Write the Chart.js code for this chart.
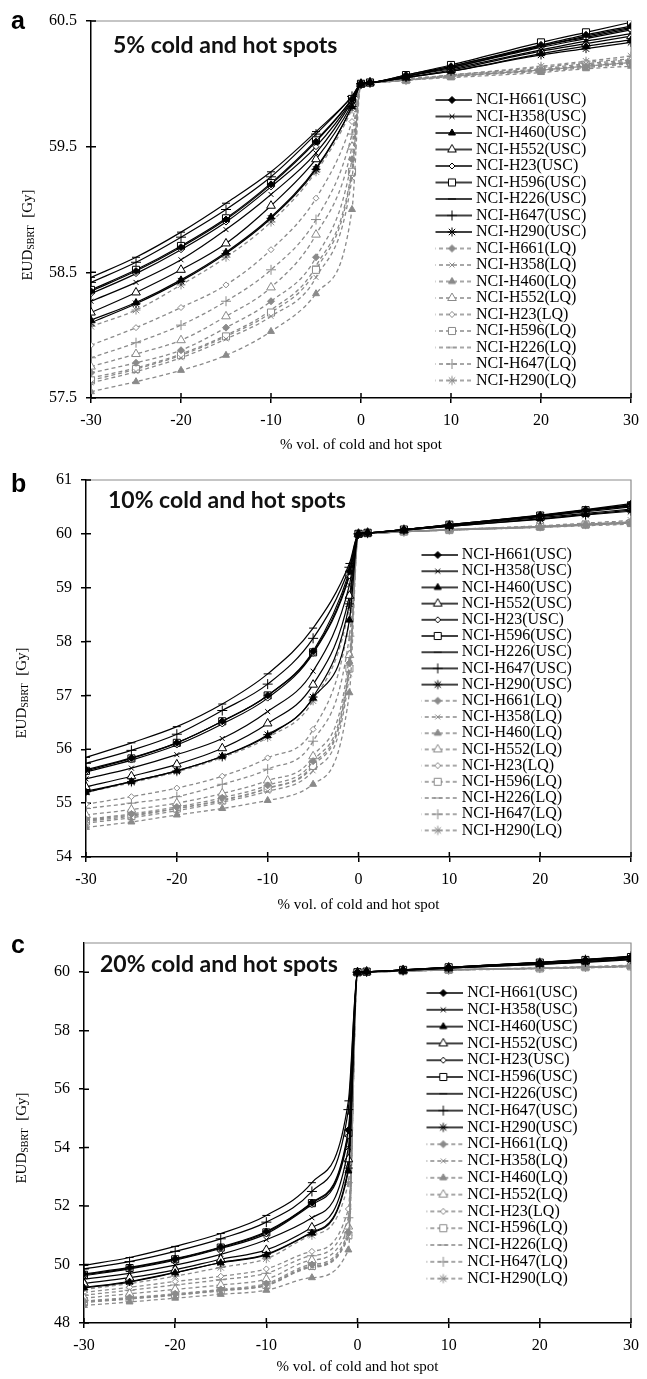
<!DOCTYPE html>
<html>
<head>
<meta charset="utf-8">
<script src="https://cdn.jsdelivr.net/npm/chart.js@4.4.0/dist/chart.umd.min.js"></script>
<style>
  body { margin: 0; background: #fff; }
  #page { position: relative; width: 647px; height: 1379px; overflow: hidden; }
  canvas { position: absolute; left: 0; }
  .letter { position: absolute; font: bold 25px "Liberation Sans", Arial, sans-serif; line-height: 1; }
  .spots { position: absolute; font: bold 23px Lato, sans-serif; line-height: 1; white-space: nowrap; color: #111; }
  .ylab { position: absolute; font: 15px "Liberation Serif", serif; white-space: nowrap; transform: translate(-50%, -50%) rotate(-90deg); }
  .ylab sub { font-size: 10px; vertical-align: -2px; }
</style>
</head>
<body>
<div id="page">
  <canvas id="chartA" width="647" height="460" style="top:0px"></canvas>
  <canvas id="chartB" width="647" height="460" style="top:460px"></canvas>
  <canvas id="chartC" width="647" height="459" style="top:920px"></canvas>

  <div class="letter" style="left:11px;top:8px">a</div>
  <div class="letter" style="left:11px;top:471px">b</div>
  <div class="letter" style="left:11px;top:932px">c</div>

  <div class="spots" style="left:113px;top:33px">5% cold and hot spots</div>
  <div class="spots" style="left:108px;top:488px">10% cold and hot spots</div>
  <div class="spots" style="left:100px;top:952px">20% cold and hot spots</div>

  <div class="ylab" style="left:27px;top:235px">EUD<sub>SBRT</sub>&nbsp; [Gy]</div>
  <div class="ylab" style="left:21px;top:693px">EUD<sub>SBRT</sub>&nbsp; [Gy]</div>
  <div class="ylab" style="left:21px;top:1138px">EUD<sub>SBRT</sub>&nbsp; [Gy]</div>
</div>
<script>
// % volume of the cold (negative) or hot (positive) spot
const xValues = [-30, -25, -20, -15, -10, -5, -1, 0, 1, 5, 10, 20, 25, 30];
const cellLines = ["NCI-H661", "NCI-H358", "NCI-H460", "NCI-H552", "NCI-H23", "NCI-H596", "NCI-H226", "NCI-H647", "NCI-H290"];

// panel a - 5% spots (rows follow cellLines)
const usc5 = [
  [58.35, 58.51, 58.70, 58.92, 59.20, 59.54, 59.88, 60, 60.01, 60.07, 60.14, 60.31, 60.39, 60.46],
  [58.27, 58.42, 58.60, 58.84, 59.12, 59.45, 59.86, 60, 60.01, 60.06, 60.12, 60.27, 60.34, 60.40],
  [58.12, 58.26, 58.44, 58.66, 58.94, 59.33, 59.82, 60, 60.01, 60.05, 60.10, 60.24, 60.30, 60.35],
  [58.18, 58.34, 58.52, 58.73, 59.03, 59.40, 59.84, 60, 60.01, 60.05, 60.11, 60.26, 60.32, 60.38],
  [58.33, 58.49, 58.68, 58.90, 59.18, 59.50, 59.87, 60, 60.01, 60.06, 60.13, 60.29, 60.36, 60.43],
  [58.36, 58.52, 58.71, 58.93, 59.21, 59.55, 59.88, 60, 60.01, 60.07, 60.15, 60.33, 60.41, 60.49],
  [58.46, 58.62, 58.82, 59.05, 59.30, 59.62, 59.90, 60, 60.01, 60.06, 60.14, 60.30, 60.38, 60.45],
  [58.42, 58.58, 58.78, 59.00, 59.26, 59.60, 59.90, 60, 60.01, 60.06, 60.13, 60.30, 60.37, 60.44],
  [58.10, 58.25, 58.43, 58.65, 58.93, 59.32, 59.82, 60, 60.01, 60.05, 60.10, 60.23, 60.28, 60.33]
];
const lq5 = [
  [57.70, 57.78, 57.88, 58.06, 58.27, 58.62, 59.40, 60, 60.01, 60.03, 60.06, 60.11, 60.14, 60.17],
  [57.62, 57.71, 57.82, 57.97, 58.15, 58.46, 59.25, 60, 60.01, 60.03, 60.06, 60.10, 60.13, 60.16],
  [57.55, 57.63, 57.72, 57.84, 58.03, 58.33, 59.00, 60, 60.01, 60.03, 60.05, 60.09, 60.12, 60.14],
  [57.75, 57.85, 57.96, 58.15, 58.38, 58.80, 59.50, 60, 60.01, 60.03, 60.06, 60.11, 60.15, 60.18],
  [57.92, 58.06, 58.22, 58.40, 58.68, 59.09, 59.70, 60, 60.01, 60.03, 60.07, 60.13, 60.17, 60.20],
  [57.64, 57.73, 57.84, 57.99, 58.18, 58.52, 59.30, 60, 60.01, 60.03, 60.06, 60.11, 60.14, 60.17],
  [57.66, 57.74, 57.85, 58.00, 58.20, 58.55, 59.32, 60, 60.01, 60.03, 60.06, 60.11, 60.14, 60.17],
  [57.82, 57.94, 58.08, 58.27, 58.52, 58.92, 59.60, 60, 60.01, 60.03, 60.07, 60.12, 60.16, 60.19],
  [58.07, 58.20, 58.40, 58.62, 58.90, 59.30, 59.80, 60, 60.01, 60.04, 60.07, 60.14, 60.18, 60.22]
];

// panel b - 10% spots
const usc10 = [
  [55.62, 55.84, 56.12, 56.52, 57.00, 57.82, 59.30, 60, 60.02, 60.08, 60.17, 60.35, 60.45, 60.56],
  [55.45, 55.65, 55.90, 56.20, 56.70, 57.45, 59.05, 60, 60.02, 60.08, 60.16, 60.32, 60.41, 60.50],
  [55.20, 55.40, 55.60, 55.87, 56.25, 56.95, 58.40, 60, 60.02, 60.07, 60.14, 60.28, 60.36, 60.44],
  [55.30, 55.50, 55.72, 56.02, 56.48, 57.20, 58.85, 60, 60.02, 60.07, 60.15, 60.30, 60.38, 60.46],
  [55.58, 55.80, 56.08, 56.47, 56.95, 57.78, 59.22, 60, 60.02, 60.08, 60.16, 60.33, 60.43, 60.52],
  [55.60, 55.83, 56.12, 56.52, 57.00, 57.80, 59.25, 60, 60.02, 60.08, 60.17, 60.34, 60.44, 60.53],
  [55.85, 56.12, 56.42, 56.84, 57.40, 58.25, 59.45, 60, 60.02, 60.08, 60.17, 60.34, 60.44, 60.54],
  [55.74, 55.98, 56.28, 56.72, 57.21, 58.06, 59.38, 60, 60.02, 60.08, 60.16, 60.33, 60.43, 60.52],
  [55.22, 55.40, 55.60, 55.87, 56.27, 56.97, 58.70, 60, 60.02, 60.07, 60.14, 60.27, 60.35, 60.42]
];
const lq10 = [
  [54.70, 54.80, 54.93, 55.10, 55.33, 55.78, 57.60, 60, 60.01, 60.04, 60.07, 60.13, 60.17, 60.21],
  [54.63, 54.73, 54.86, 55.02, 55.22, 55.60, 57.40, 60, 60.01, 60.04, 60.07, 60.12, 60.16, 60.20],
  [54.55, 54.65, 54.78, 54.90, 55.05, 55.35, 57.05, 60, 60.01, 60.04, 60.07, 60.12, 60.15, 60.18],
  [54.78, 54.88, 55.00, 55.18, 55.42, 55.87, 57.75, 60, 60.01, 60.04, 60.08, 60.13, 60.17, 60.21],
  [54.98, 55.12, 55.28, 55.50, 55.84, 56.37, 58.40, 60, 60.01, 60.04, 60.08, 60.14, 60.18, 60.23],
  [54.66, 54.76, 54.90, 55.05, 55.27, 55.69, 57.50, 60, 60.01, 60.04, 60.07, 60.13, 60.17, 60.20],
  [54.68, 54.78, 54.90, 55.06, 55.28, 55.72, 57.55, 60, 60.01, 60.04, 60.07, 60.13, 60.17, 60.20],
  [54.90, 55.00, 55.12, 55.35, 55.63, 56.15, 58.10, 60, 60.01, 60.04, 60.08, 60.14, 60.18, 60.22],
  [55.20, 55.38, 55.58, 55.85, 56.22, 56.90, 58.65, 60, 60.01, 60.04, 60.08, 60.15, 60.20, 60.25]
];

// panel c - 20% spots
const usc20 = [
  [49.68, 49.90, 50.20, 50.60, 51.13, 52.12, 54.60, 60, 60.02, 60.08, 60.17, 60.34, 60.43, 60.53],
  [49.50, 49.70, 49.98, 50.35, 50.85, 51.60, 54.00, 60, 60.02, 60.07, 60.16, 60.31, 60.40, 60.49],
  [49.20, 49.40, 49.72, 50.06, 50.33, 51.08, 53.20, 60, 60.02, 60.06, 60.14, 60.27, 60.35, 60.44],
  [49.35, 49.55, 49.82, 50.18, 50.50, 51.27, 53.60, 60, 60.02, 60.07, 60.15, 60.29, 60.37, 60.46],
  [49.62, 49.85, 50.15, 50.55, 51.05, 52.05, 54.40, 60, 60.02, 60.07, 60.16, 60.32, 60.41, 60.51],
  [49.65, 49.88, 50.18, 50.58, 51.10, 52.10, 54.50, 60, 60.02, 60.08, 60.17, 60.33, 60.42, 60.52],
  [49.97, 50.24, 50.62, 51.06, 51.68, 52.80, 55.60, 60, 60.02, 60.08, 60.17, 60.34, 60.44, 60.55],
  [49.85, 50.10, 50.45, 50.88, 51.45, 52.50, 55.30, 60, 60.02, 60.08, 60.17, 60.33, 60.43, 60.54],
  [49.22, 49.42, 49.73, 50.07, 50.35, 51.10, 53.30, 60, 60.02, 60.06, 60.14, 60.27, 60.34, 60.43]
];
const lq20 = [
  [48.75, 48.87, 49.00, 49.15, 49.35, 50.00, 51.10, 60, 60.01, 60.04, 60.08, 60.14, 60.17, 60.21],
  [48.70, 48.82, 48.95, 49.10, 49.28, 49.90, 50.95, 60, 60.01, 60.04, 60.08, 60.13, 60.16, 60.20],
  [48.60, 48.72, 48.85, 48.98, 49.12, 49.55, 50.50, 60, 60.01, 60.04, 60.07, 60.12, 60.15, 60.18],
  [48.85, 49.00, 49.15, 49.30, 49.50, 50.15, 51.30, 60, 60.01, 60.04, 60.08, 60.14, 60.17, 60.21],
  [49.05, 49.22, 49.42, 49.60, 49.85, 50.45, 51.90, 60, 60.01, 60.04, 60.08, 60.14, 60.18, 60.22],
  [48.72, 48.84, 48.97, 49.12, 49.30, 49.95, 51.00, 60, 60.01, 60.04, 60.08, 60.13, 60.17, 60.20],
  [48.72, 48.84, 48.97, 49.12, 49.30, 49.92, 51.00, 60, 60.01, 60.04, 60.08, 60.13, 60.17, 60.20],
  [48.95, 49.12, 49.30, 49.48, 49.70, 50.30, 51.60, 60, 60.01, 60.04, 60.08, 60.14, 60.18, 60.22],
  [49.15, 49.35, 49.60, 49.90, 50.20, 51.00, 52.80, 60, 60.01, 60.05, 60.09, 60.15, 60.19, 60.24]
];

// y axis ranges [min, max, step] for a, b, c
const yRangeA = [57.5, 60.5, 1];
const yRangeB = [54, 61, 1];
const yRangeC = [48, 61, 2];

const GRAY = '#8a8a8a';

// Excel-like marker per cell line
const markers = [
  { style: 'rectRot', r: 3.5, filled: true },   // H661
  { style: 'crossRot', r: 3.5, filled: false }, // H358
  { style: 'triangle', r: 4, filled: true },    // H460
  { style: 'triangle', r: 5, filled: false },   // H552
  { style: 'rectRot', r: 3, filled: false },    // H23
  { style: 'rect', r: 5, filled: false },       // H596
  { style: 'line', r: 4, filled: false },       // H226
  { style: 'cross', r: 5, filled: false },      // H647
  { style: 'star', r: 4.5, filled: false }      // H290
];

function makeSet(label, vals, i, isLQ) {
  const m = markers[i];
  const col = isLQ ? GRAY : '#000';
  return {
    label: label,
    data: xValues.map((x, k) => ({ x: x, y: vals[k] })),
    borderColor: col,
    borderWidth: isLQ ? 1.3 : 1.2,
    borderDash: isLQ ? [4, 3] : [],
    pointStyle: m.style,
    pointRadius: m.r,
    pointBorderWidth: 1,
    pointBorderColor: col,
    pointBackgroundColor: m.filled ? col : '#fff',
    cubicInterpolationMode: 'monotone',
    fill: false
  };
}

// little line+marker picture for legend entries
function legendSymbol(i, isLQ) {
  const c = document.createElement('canvas');
  c.width = 40; c.height = 14;
  const ctx = c.getContext('2d');
  const col = isLQ ? GRAY : '#000';
  ctx.strokeStyle = col;
  ctx.lineWidth = 1.3;
  ctx.setLineDash(isLQ ? [4, 3] : []);
  ctx.beginPath(); ctx.moveTo(0, 7); ctx.lineTo(40, 7); ctx.stroke();
  ctx.setLineDash([]);
  const m = markers[i];
  ctx.fillStyle = m.filled ? col : '#fff';
  ctx.lineWidth = 1;
  if (Chart.helpers && Chart.helpers.drawPoint) {
    Chart.helpers.drawPoint(ctx, { pointStyle: m.style, radius: m.r, rotation: 0, borderWidth: 1 }, 20, 7);
  }
  return c;
}

const symbolsUSC = cellLines.map((n, i) => legendSymbol(i, false));
const symbolsLQ = cellLines.map((n, i) => legendSymbol(i, true));

// frame on top/right, inward tick halves, legend moved inside plot
const framePlugin = {
  id: 'frame',
  afterLayout(chart, args, opts) {
    const lg = chart.legend;
    if (lg) {
      const w = lg.width, h = lg.height;
      lg.left = opts.legendLeft;
      lg.top = opts.legendTop;
      lg.right = lg.left + w;
      lg.bottom = lg.top + h + 40;
    }
  },
  beforeDatasetsDraw(chart) {
    const { ctx, chartArea } = chart;
    const { left, top, right, bottom } = chartArea;
    ctx.save();
    ctx.strokeStyle = '#8c8c8c';
    ctx.lineWidth = 1.2;
    ctx.beginPath();
    ctx.moveTo(left, top); ctx.lineTo(right, top); ctx.lineTo(right, bottom);
    ctx.stroke();
    ctx.strokeStyle = '#000';
    ctx.lineWidth = 1.5;
    ctx.beginPath();
    chart.scales.x.ticks.forEach(t => {
      const px = chart.scales.x.getPixelForValue(t.value);
      ctx.moveTo(px, bottom); ctx.lineTo(px, bottom - 5);
    });
    chart.scales.y.ticks.forEach(t => {
      const py = chart.scales.y.getPixelForValue(t.value);
      ctx.moveTo(left, py); ctx.lineTo(left + 5, py);
    });
    ctx.stroke();
    ctx.restore();
  }
};

Chart.defaults.font.family = '"Liberation Serif", "Times New Roman", serif';
Chart.defaults.color = '#000';

function makeChart(id, usc, lq, yRange, lay) {
  const datasets = [];
  usc.forEach((vals, i) => datasets.push(makeSet(cellLines[i] + '(USC)', vals, i, false)));
  lq.forEach((vals, i) => datasets.push(makeSet(cellLines[i] + '(LQ)', vals, i, true)));

  const gridOpts = { drawOnChartArea: false, tickLength: 5, color: '#000', lineWidth: 1.5 };
  const borderOpts = { color: '#000', width: 1.5 };

  return new Chart(document.getElementById(id), {
    type: 'line',
    data: { datasets: datasets },
    plugins: [framePlugin],
    options: {
      responsive: false,
      animation: false,
      devicePixelRatio: 1,
      layout: { padding: { top: lay.top, right: lay.right, left: 0, bottom: 0 } },
      plugins: {
        frame: { legendLeft: lay.legendLeft, legendTop: lay.legendTop },
        tooltip: { enabled: false },
        legend: {
          position: 'chartArea',
          align: 'start',
          labels: {
            usePointStyle: true,
            pointStyleWidth: 32,
            padding: lay.rowPad,
            color: '#000',
            font: { size: 16 },
            generateLabels(chart) {
              return chart.data.datasets.map((ds, i) => ({
                text: ds.label,
                pointStyle: i < 9 ? symbolsUSC[i] : symbolsLQ[i - 9],
                fillStyle: '#fff',
                strokeStyle: '#fff',
                lineWidth: 0,
                fontColor: '#000',
                hidden: false,
                datasetIndex: i
              }));
            }
          }
        }
      },
      scales: {
        x: {
          type: 'linear',
          min: -30,
          max: 30,
          ticks: { stepSize: 10, padding: 8, color: '#000', font: { size: 16 } },
          grid: gridOpts,
          border: borderOpts,
          title: {
            display: true,
            text: '% vol. of cold and hot spot',
            color: '#000',
            font: { size: 15 },
            padding: { top: 0, bottom: lay.titlePad }
          },
          afterFit(scale) { scale.height = lay.xHeight; }
        },
        y: {
          min: yRange[0],
          max: yRange[1],
          ticks: { stepSize: yRange[2], padding: 9, includeBounds: false, color: '#000', font: { size: 16 } },
          grid: gridOpts,
          border: borderOpts,
          afterFit(scale) { scale.width = lay.yWidth; }
        }
      }
    }
  });
}

makeChart('chartA', usc5, lq5, yRangeA,
  { top: 21, right: 7, yWidth: 91, xHeight: 62, titlePad: 6, legendLeft: 435.5, legendTop: 91.5, rowPad: 0.5 });
makeChart('chartB', usc10, lq10, yRangeB,
  { top: 20, right: 11, yWidth: 86, xHeight: 63, titlePad: 6, legendLeft: 421.5, legendTop: 86.8, rowPad: 0.2 });
makeChart('chartC', usc20, lq20, yRangeC,
  { top: 23, right: 15, yWidth: 84, xHeight: 56, titlePad: 3, legendLeft: 426.5, legendTop: 64.2, rowPad: 0.8 });
</script>
</body>
</html>
